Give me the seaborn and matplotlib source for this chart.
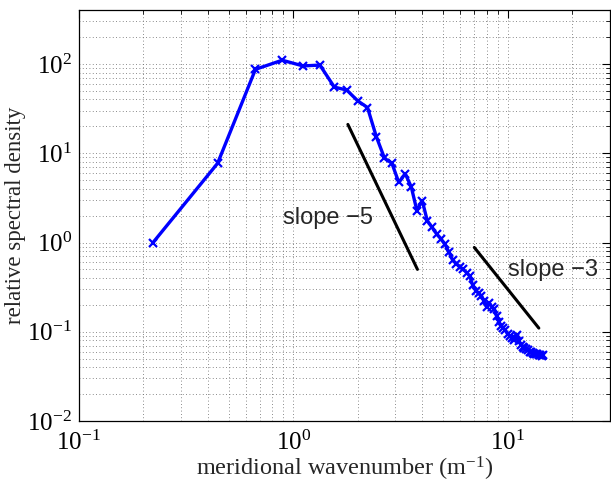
import numpy as np
import pandas as pd
import matplotlib
matplotlib.use("Agg")
import matplotlib.pyplot as plt
import seaborn as sns
from matplotlib.ticker import LogLocator, NullFormatter

# ---- data ----
wavenumber = [0.222, 0.444, 0.667, 0.889, 1.111, 1.333, 1.556, 1.778, 2.0, 2.222,
              2.444, 2.667, 2.889, 3.111, 3.333, 3.556, 3.778, 4.0, 4.222, 4.444,
              4.667, 4.889, 5.111, 5.333, 5.556, 5.778, 6.0, 6.222, 6.444, 6.667,
              6.889, 7.111, 7.333, 7.556, 7.778, 8.0, 8.222, 8.444, 8.667, 8.889,
              9.111, 9.333, 9.556, 9.778, 10.0, 10.222, 10.444, 10.667, 10.889, 11.111,
              11.333, 11.556, 11.778, 12.0, 12.222, 12.444, 12.667, 12.889, 13.111, 13.333,
              13.556, 13.778, 14.0, 14.222, 14.444, 14.667]
density = [1.0, 7.7, 87, 110, 95, 97, 55, 51, 38.6, 32.5,
           15.3, 8.8, 7.7, 4.7, 5.9, 4.2, 2.28, 2.95, 1.76, 1.48,
           1.25, 1.1, 0.95, 0.78, 0.63, 0.58, 0.53, 0.50, 0.46, 0.42,
           0.33, 0.29, 0.27, 0.25, 0.22, 0.19, 0.21, 0.19, 0.18, 0.15,
           0.13, 0.115, 0.11, 0.104, 0.095, 0.09, 0.085, 0.08, 0.085, 0.092,
           0.078, 0.072, 0.068, 0.066, 0.064, 0.062, 0.06, 0.059, 0.058, 0.057,
           0.056, 0.056, 0.055, 0.055, 0.054, 0.055]

slope5_x = [1.8, 3.8]
slope5_y = [21.0, 0.50]
slope3_x = [7.0, 14.0]
slope3_y = [0.88, 0.11]

label_slope5 = "slope \u22125"
label_slope3 = "slope \u22123"
xlabel = r"meridional wavenumber (m$^{-1}$)"
ylabel = "relative spectral density"

# ---- style ----
sns.set_theme(style="white")
plt.rcParams['font.family'] = ['Liberation Serif', 'DejaVu Serif']
plt.rcParams['mathtext.fontset'] = 'custom'
plt.rcParams['mathtext.rm'] = 'Liberation Serif'
plt.rcParams['mathtext.it'] = 'Liberation Serif:italic'
plt.rcParams['mathtext.bf'] = 'Liberation Serif:bold'

fig = plt.figure(figsize=(6.11, 4.84), dpi=100)
ax = fig.add_axes([0.129, 0.130, 0.869, 0.849])

df = pd.DataFrame({"k": wavenumber, "E": density})
sns.lineplot(data=df, x="k", y="E", ax=ax, color=(0, 0, 1), linewidth=2.4,
             marker="x", markersize=5.5, markeredgewidth=1.6, markeredgecolor=(0, 0, 1),
             sort=False, estimator=None)

ax.plot(slope5_x, slope5_y, color="black", linewidth=2.2)
ax.plot(slope3_x, slope3_y, color="black", linewidth=2.2)

ax.text(0.90, 1.9, label_slope5, family="Liberation Sans", fontsize=17,
        va="center", ha="left")
ax.text(10.0, 0.49, label_slope3, family="Liberation Sans", fontsize=17,
        va="center", ha="left")

ax.set_xscale("log")
ax.set_yscale("log")
ax.set_xlim(0.1, 30)
ax.set_ylim(0.01, 400)

ax.xaxis.set_major_locator(LogLocator(base=10, numticks=10))
ax.yaxis.set_major_locator(LogLocator(base=10, numticks=10))
ax.xaxis.set_minor_locator(LogLocator(base=10, subs=np.arange(2, 10), numticks=20))
ax.yaxis.set_minor_locator(LogLocator(base=10, subs=np.arange(2, 10), numticks=20))
ax.xaxis.set_minor_formatter(NullFormatter())
ax.yaxis.set_minor_formatter(NullFormatter())

ax.grid(True, which="both", color="0.4", linestyle=(0, (1, 3)), linewidth=0.6)
ax.tick_params(which="both", direction="in", top=True, right=True, colors="black",
               labelsize=18)
ax.tick_params(which="major", length=6, width=0.8)
ax.tick_params(which="minor", length=3, width=0.6)
ax.tick_params(axis="x", pad=7)
ax.tick_params(axis="y", pad=5)
for s in ax.spines.values():
    s.set_color("black")
    s.set_linewidth(0.9)

ax.set_xlabel(xlabel, fontsize=17.5, labelpad=0)
ax.set_ylabel(ylabel, fontsize=16.5)
ax.yaxis.set_label_coords(-0.100, 0.5)

fig.savefig("out.png", dpi=100)
